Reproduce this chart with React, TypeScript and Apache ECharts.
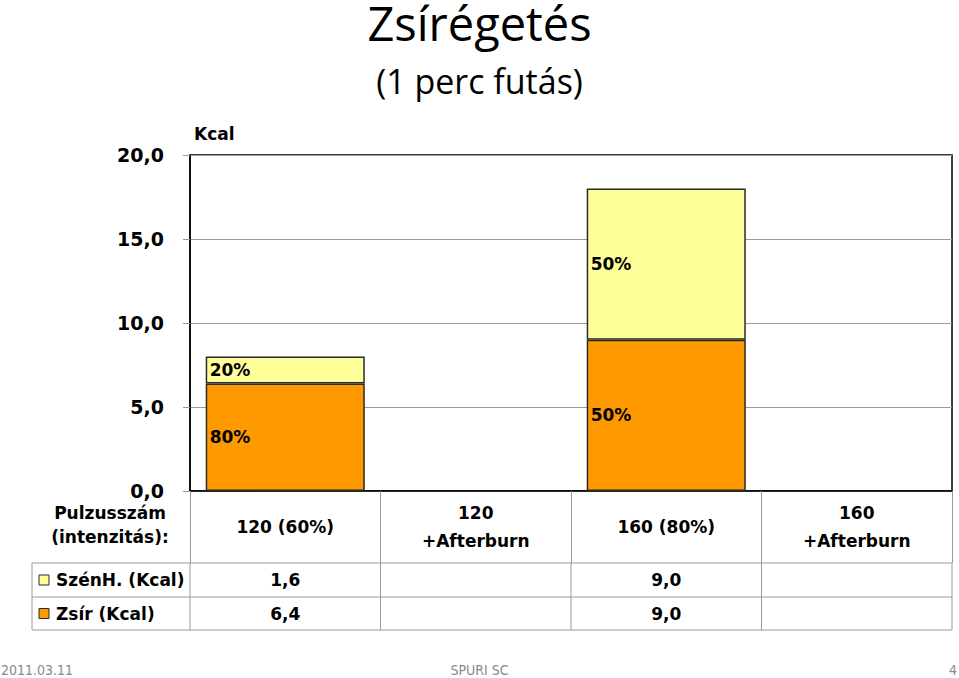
import React, { useEffect, useRef } from "react";
import * as echarts from "echarts";

const categories = ["120 (60%)", "120\n+Afterburn", "160 (80%)", "160\n+Afterburn"];
const fatKcal: (number | null)[] = [6.4, null, 9.0, null];
const carbKcal: (number | null)[] = [1.6, null, 9.0, null];
const fatShare = ["80%", "", "50%", ""];
const carbShare = ["20%", "", "50%", ""];
const yMin = 0;
const yMax = 20;
const yInterval = 5;
const titleText = "Zsírégetés";
const subtitleText = "(1 perc futás)";
const yName = "Kcal";
const headerLabel = ["Pulzusszám", "(intenzitás):"];
const rowNames = ["SzénH. (Kcal)", "Zsír (Kcal)"];
const footer = ["2011.03.11", "SPURI SC", "4"];

const FAT = "#FF9900";
const CARB = "#FFFF99";
const FONT = "DejaVu Sans";
const TABLE = "#9a9a9a";

const fmt = (v: number | null) => (v == null ? "" : v.toFixed(1).replace(".", ","));

export default function App() {
  const ref = useRef<HTMLDivElement>(null);
  useEffect(() => {
    if (!ref.current) return;
    const chart = echarts.init(ref.current, undefined, { renderer: "svg" });
    const gridLeft = 190;
    const gridRight = 7;
    const gridTop = 155;
    const gridBottom = 187;
    const W = 959;
    chart.setOption({
      animation: false,
      backgroundColor: "#fff",
      textStyle: { fontFamily: FONT },
      grid: {
        left: gridLeft,
        right: gridRight,
        top: gridTop,
        bottom: gridBottom,
        show: true,
        borderColor: "#000",
        borderWidth: 1.5,
        backgroundColor: "transparent",
      },
      xAxis: {
        type: "category",
        data: categories,
        boundaryGap: true,
        axisLine: { show: true, lineStyle: { color: "#000", width: 1.5 } },
        axisTick: { show: true, interval: 0, length: 72, lineStyle: { color: TABLE, width: 1 } },
        axisLabel: {
          interval: 0,
          margin: 36,
          verticalAlign: "middle",
          lineHeight: 28,
          fontSize: 17,
          fontWeight: "bold",
          color: "#000",
          fontFamily: FONT,
        },
        splitLine: { show: false },
      },
      yAxis: {
        type: "value",
        min: yMin,
        max: yMax,
        interval: yInterval,
        name: yName,
        nameLocation: "end",
        nameGap: 13,
        nameTextStyle: {
          align: "left",
          padding: [0, 0, 0, 4],
          fontSize: 17,
          fontWeight: "bold",
          color: "#000",
          fontFamily: FONT,
        },
        axisLine: { show: true, lineStyle: { color: "#000", width: 1.5 } },
        axisTick: { show: true, length: 7, lineStyle: { color: TABLE } },
        axisLabel: {
          margin: 26,
          fontSize: 19,
          fontWeight: "bold",
          color: "#000",
          fontFamily: FONT,
          formatter: (v: number) => fmt(v),
        },
        splitLine: { show: true, lineStyle: { color: TABLE, width: 1 } },
      },
      series: [
        {
          name: rowNames[1],
          type: "bar",
          stack: "kcal",
          barWidth: "83.5%",
          data: fatKcal,
          itemStyle: { color: FAT, borderColor: "#2a2a2a", borderWidth: 1.5 },
          label: {
            show: true,
            position: "insideLeft",
            distance: 4,
            fontSize: 17,
            fontWeight: "bold",
            color: "#000",
            fontFamily: FONT,
            formatter: (p: any) => fatShare[p.dataIndex],
          },
        },
        {
          name: rowNames[0],
          type: "bar",
          stack: "kcal",
          barWidth: "83.5%",
          data: carbKcal,
          itemStyle: { color: CARB, borderColor: "#2a2a2a", borderWidth: 1.5 },
          label: {
            show: true,
            position: "insideLeft",
            distance: 4,
            fontSize: 17,
            fontWeight: "bold",
            color: "#000",
            fontFamily: FONT,
            formatter: (p: any) => carbShare[p.dataIndex],
          },
        },
      ],
    });

    // table below the plot, columns from the category axis
    const centers = categories.map((_, i) => chart.convertToPixel({ xAxisIndex: 0 }, i) as number);
    const band = centers.length > 1 ? centers[1] - centers[0] : 0;
    const bounds = [centers[0] - band / 2, ...centers.map((c) => c + band / 2)];
    const tableLeft = 32;
    const tableRight = bounds[bounds.length - 1];
    const rowTops = [563, 597, 630];
    const g: any[] = [];
    rowTops.forEach((y) =>
      g.push({ type: "line", shape: { x1: tableLeft, y1: y, x2: tableRight, y2: y }, style: { stroke: TABLE, lineWidth: 1 }, silent: true })
    );
    [tableLeft, ...bounds].forEach((x) =>
      g.push({ type: "line", shape: { x1: x, y1: rowTops[0], x2: x, y2: rowTops[2] }, style: { stroke: TABLE, lineWidth: 1 }, silent: true })
    );
    const rows = [carbKcal, fatKcal];
    const colors = [CARB, FAT];
    rows.forEach((vals, r) => {
      const cy = (rowTops[r] + rowTops[r + 1]) / 2;
      g.push({
        type: "rect",
        shape: { x: 39, y: cy - 5, width: 10, height: 10 },
        style: { fill: colors[r], stroke: "#2a2a2a", lineWidth: 1 },
        silent: true,
      });
      g.push({
        type: "text",
        x: 56,
        y: cy,
        style: { text: rowNames[r], fontSize: 17, fontWeight: "bold", fontFamily: FONT, fill: "#000", textVerticalAlign: "middle", textAlign: "left" },
        silent: true,
      });
      vals.forEach((v, i) => {
        if (v == null) return;
        g.push({
          type: "text",
          x: centers[i],
          y: cy,
          style: { text: fmt(v), fontSize: 17, fontWeight: "bold", fontFamily: FONT, fill: "#000", textAlign: "center", textVerticalAlign: "middle" },
          silent: true,
        });
      });
    });
    g.push({
      type: "text",
      x: 110,
      y: 513,
      style: { text: headerLabel[0], fontSize: 17, fontWeight: "bold", fontFamily: FONT, fill: "#000", textAlign: "center", textVerticalAlign: "middle" },
      silent: true,
    });
    g.push({
      type: "text",
      x: 110,
      y: 537,
      style: { text: headerLabel[1], fontSize: 17, fontWeight: "bold", fontFamily: FONT, fill: "#000", textAlign: "center", textVerticalAlign: "middle" },
      silent: true,
    });
    // title
    g.push({
      type: "text",
      x: W / 2,
      y: 23,
      style: { text: titleText, fontSize: 47, lineHeight: 44, fontFamily: "Open Sans", fill: "#000", textAlign: "center", textVerticalAlign: "middle" },
      silent: true,
    });
    g.push({
      type: "text",
      x: W / 2,
      y: 81,
      style: { text: subtitleText, fontSize: 34, fontFamily: "Open Sans", fill: "#000", textAlign: "center", textVerticalAlign: "middle" },
      silent: true,
    });
    // footer
    const fstyle = { fontSize: 14, fontFamily: "Liberation Sans Narrow, DejaVu Sans Condensed, sans-serif", fill: "#8a8a8a", textVerticalAlign: "middle" };
    g.push({ type: "text", x: 1, y: 670, style: { ...fstyle, text: footer[0], textAlign: "left" }, silent: true });
    g.push({ type: "text", x: W / 2, y: 670, style: { ...fstyle, text: footer[1], textAlign: "center" }, silent: true });
    g.push({ type: "text", x: W - 2, y: 670, style: { ...fstyle, text: footer[2], textAlign: "right" }, silent: true });

    chart.setOption({ graphic: g });
    return () => chart.dispose();
  }, []);
  return <div ref={ref} style={{ position: "fixed", left: 0, top: 0, width: 959, height: 678 }} />;
}
